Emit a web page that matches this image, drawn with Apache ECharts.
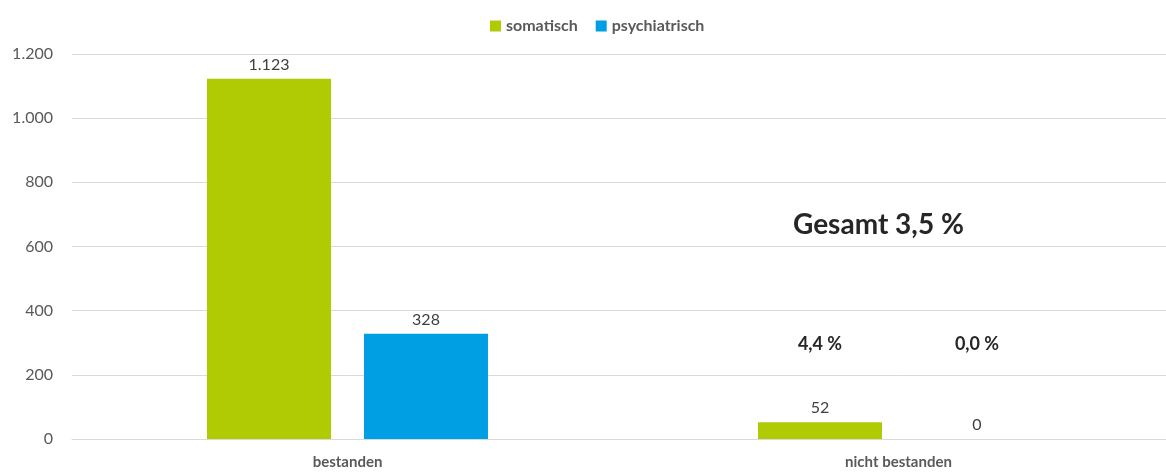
<!DOCTYPE html>
<html style="height: 100%">
<head>
    <meta charset="utf-8">
</head>
<body style="height: 100%; margin: 0; overflow: hidden">
<div id="container" style="width: 1174px; height: 473px"></div>
<script src="https://cdn.jsdelivr.net/npm/echarts@6/dist/echarts.min.js"></script>
<script type="text/javascript">
    // data
    var categories = ['bestanden', 'nicht bestanden'];
    var somatisch = [1123, 52];
    var psychiatrisch = [328, 0];
    var yTicks = [0, 200, 400, 600, 800, 1000, 1200];
    var pctLevel = 296;     // height of the per-series percent labels
    var totalLevel = 661;   // height of the "Gesamt" label

    function fmt(n) {
        return String(n).replace(/\B(?=(\d{3})+(?!\d))/g, '.');
    }
    function pct(a, b) {
        return (a / (a + b) * 100).toFixed(1).replace('.', ',') + ' %';
    }
    var pctSom = pct(somatisch[1], somatisch[0]);
    var pctPsy = pct(psychiatrisch[1], psychiatrisch[0]);
    var pctAll = pct(somatisch[1] + psychiatrisch[1], somatisch[0] + psychiatrisch[0]);

    var font = 'Lato';
    var dom = document.getElementById("container");
    var myChart = echarts.init(dom);

    function pctMark(text) {
        return {
            symbol: 'circle',
            symbolSize: 1,
            silent: true,
            itemStyle: { color: 'rgba(0,0,0,0)' },
            label: {
                show: true, position: 'inside', formatter: text,
                color: '#262626', fontSize: 18, fontWeight: 'bold', fontFamily: font
            },
            data: [{ coord: [categories[1], pctLevel] }]
        };
    }

    var option = {
        animation: false,
        textStyle: { fontFamily: font },
        legend: {
            left: 485, top: 13,
            itemWidth: 11, itemHeight: 11, itemGap: 18,
            icon: 'rect',
            textStyle: { color: '#595959', fontSize: 16, fontWeight: 'bold', fontFamily: font },
            data: ['somatisch', 'psychiatrisch']
        },
        grid: { left: 72, top: 54, width: 1102, height: 385, containLabel: false },
        xAxis: {
            type: 'category',
            data: categories,
            axisLine: { show: true, lineStyle: { color: '#D9D9D9' } },
            axisTick: { show: false },
            axisLabel: { color: '#595959', fontSize: 15, fontWeight: 'bold', margin: 16, fontFamily: font }
        },
        yAxis: {
            type: 'value',
            min: yTicks[0], max: yTicks[yTicks.length - 1], interval: 200,
            axisLine: { show: false },
            axisTick: { show: false },
            axisLabel: { color: '#595959', fontSize: 16, margin: 19, formatter: fmt, fontFamily: font },
            splitLine: { lineStyle: { color: '#D9D9D9' } }
        },
        series: [
            {
                name: 'somatisch', type: 'bar', data: somatisch,
                barWidth: 124, barGap: '26.6%',
                itemStyle: { color: '#B0CB03' },
                label: { show: true, position: 'top', distance: 6, color: '#404040', fontSize: 16, formatter: function (p) { return fmt(p.value); } },
                markPoint: pctMark(pctSom)
            },
            {
                name: 'psychiatrisch', type: 'bar', data: psychiatrisch,
                barWidth: 124,
                itemStyle: { color: '#009FE3' },
                label: { show: true, position: 'top', distance: 6, color: '#404040', fontSize: 16, formatter: function (p) { return fmt(p.value); } },
                markPoint: pctMark(pctPsy)
            }
        ],
        graphic: [{
            type: 'text', left: 793, top: 211,
            style: { text: 'Gesamt ' + pctAll, fill: '#262626', font: 'bold 28px ' + font }
        }]
    };
    myChart.setOption(option);
</script>
</body>
</html>
